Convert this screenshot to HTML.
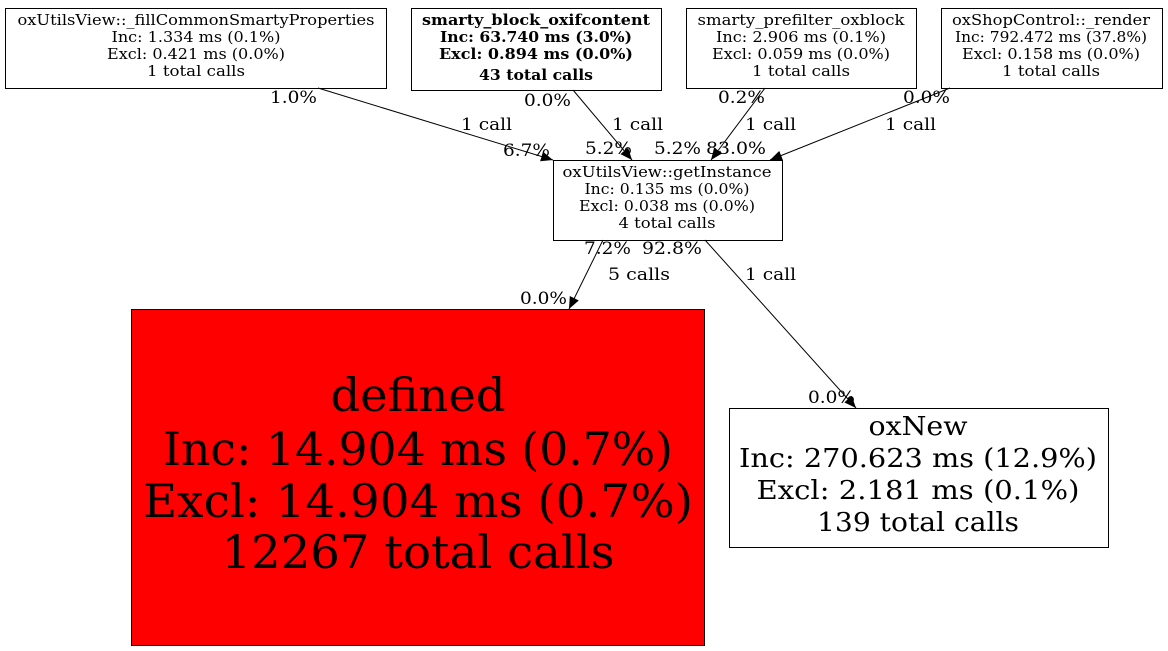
<!DOCTYPE html>
<html><head><meta charset="utf-8"><style>
html,body{margin:0;padding:0;background:#fff;}
svg{display:block;font-family:"DejaVu Serif","Liberation Serif",serif;}
</style></head><body>
<svg width="1168" height="651" viewBox="0 0 1168 651" xmlns="http://www.w3.org/2000/svg">
<defs><marker id="a" markerWidth="12" markerHeight="10" refX="12" refY="5" orient="auto" markerUnits="userSpaceOnUse"><path d="M0,0 L12,5 L0,10 z" fill="#000"/></marker></defs>
<g fill="none" stroke="#000" stroke-width="1">
<rect x="5.5" y="8.5" width="381" height="80"/>
<rect x="411.5" y="8.5" width="250" height="82"/>
<rect x="686.5" y="8.5" width="230" height="80"/>
<rect x="941.5" y="8.5" width="221" height="80"/>
<rect x="553.5" y="160.5" width="229" height="80"/>
<rect x="131.5" y="309.5" width="573" height="336" fill="#ff0000"/>
<rect x="729.5" y="408.5" width="379" height="139"/>
<line x1="318" y1="88" x2="553" y2="160" marker-end="url(#a)"/>
<line x1="573" y1="90" x2="632" y2="160" marker-end="url(#a)"/>
<line x1="765" y1="88" x2="711" y2="160" marker-end="url(#a)"/>
<line x1="950" y1="88" x2="770" y2="160" marker-end="url(#a)"/>
<line x1="603" y1="240" x2="569" y2="309" marker-end="url(#a)"/>
<line x1="705" y1="240" x2="856" y2="408" marker-end="url(#a)"/>
</g>
<g font-size="15" text-anchor="middle" fill="#000">
<text x="196" y="25" textLength="357" lengthAdjust="spacingAndGlyphs">oxUtilsView::_fillCommonSmartyProperties</text>
<text x="196" y="42" textLength="169" lengthAdjust="spacingAndGlyphs">Inc: 1.334 ms (0.1%)</text>
<text x="196" y="59" textLength="178" lengthAdjust="spacingAndGlyphs">Excl: 0.421 ms (0.0%)</text>
<text x="196" y="76" textLength="98" lengthAdjust="spacingAndGlyphs">1 total calls</text>
<g font-weight="bold">
<text x="536" y="25" textLength="228" lengthAdjust="spacingAndGlyphs">smarty_block_oxifcontent</text>
<text x="536" y="42" textLength="192" lengthAdjust="spacingAndGlyphs">Inc: 63.740 ms (3.0%)</text>
<text x="536" y="59" textLength="194" lengthAdjust="spacingAndGlyphs">Excl: 0.894 ms (0.0%)</text>
<text x="536" y="80" textLength="114" lengthAdjust="spacingAndGlyphs">43 total calls</text>
</g>
<text x="801" y="25" textLength="207" lengthAdjust="spacingAndGlyphs">smarty_prefilter_oxblock</text>
<text x="801" y="42" textLength="170" lengthAdjust="spacingAndGlyphs">Inc: 2.906 ms (0.1%)</text>
<text x="801" y="59" textLength="178" lengthAdjust="spacingAndGlyphs">Excl: 0.059 ms (0.0%)</text>
<text x="801" y="76" textLength="98" lengthAdjust="spacingAndGlyphs">1 total calls</text>
<text x="1051" y="25" textLength="198" lengthAdjust="spacingAndGlyphs">oxShopControl::_render</text>
<text x="1051" y="42" textLength="192" lengthAdjust="spacingAndGlyphs">Inc: 792.472 ms (37.8%)</text>
<text x="1051" y="59" textLength="178" lengthAdjust="spacingAndGlyphs">Excl: 0.158 ms (0.0%)</text>
<text x="1051" y="76" textLength="98" lengthAdjust="spacingAndGlyphs">1 total calls</text>
<text x="667" y="177" textLength="209" lengthAdjust="spacingAndGlyphs">oxUtilsView::getInstance</text>
<text x="667" y="194" textLength="165" lengthAdjust="spacingAndGlyphs">Inc: 0.135 ms (0.0%)</text>
<text x="667" y="211" textLength="176" lengthAdjust="spacingAndGlyphs">Excl: 0.038 ms (0.0%)</text>
<text x="667" y="228" textLength="97" lengthAdjust="spacingAndGlyphs">4 total calls</text>
</g>
<g text-anchor="middle">
<text x="418" y="411" font-size="46" textLength="175" lengthAdjust="spacingAndGlyphs">defined</text>
<text x="418" y="465" font-size="46" textLength="510" lengthAdjust="spacingAndGlyphs">Inc: 14.904 ms (0.7%)</text>
<text x="418" y="517" font-size="46" textLength="550" lengthAdjust="spacingAndGlyphs">Excl: 14.904 ms (0.7%)</text>
<text x="418" y="568" font-size="46" textLength="393" lengthAdjust="spacingAndGlyphs">12267 total calls</text>
<text x="918" y="435" font-size="26" textLength="99" lengthAdjust="spacingAndGlyphs">oxNew</text>
<text x="918" y="467" font-size="26" textLength="358" lengthAdjust="spacingAndGlyphs">Inc: 270.623 ms (12.9%)</text>
<text x="918" y="499" font-size="26" textLength="323" lengthAdjust="spacingAndGlyphs">Excl: 2.181 ms (0.1%)</text>
<text x="918" y="531" font-size="26" textLength="202" lengthAdjust="spacingAndGlyphs">139 total calls</text>
</g>
<g font-size="17">
<text x="270" y="103" textLength="47" lengthAdjust="spacingAndGlyphs">1.0%</text>
<text x="461" y="130" textLength="51" lengthAdjust="spacingAndGlyphs">1 call</text>
<text x="503" y="156" textLength="47" lengthAdjust="spacingAndGlyphs">6.7%</text>
<text x="524" y="106" textLength="47" lengthAdjust="spacingAndGlyphs">0.0%</text>
<text x="612" y="130" textLength="51" lengthAdjust="spacingAndGlyphs">1 call</text>
<text x="585" y="154" textLength="47" lengthAdjust="spacingAndGlyphs">5.2%</text>
<text x="718" y="103" textLength="47" lengthAdjust="spacingAndGlyphs">0.2%</text>
<text x="745" y="130" textLength="51" lengthAdjust="spacingAndGlyphs">1 call</text>
<text x="654" y="154" textLength="47" lengthAdjust="spacingAndGlyphs">5.2%</text>
<text x="706" y="154" textLength="60" lengthAdjust="spacingAndGlyphs">83.0%</text>
<text x="903" y="103" textLength="47" lengthAdjust="spacingAndGlyphs">0.0%</text>
<text x="885" y="130" textLength="51" lengthAdjust="spacingAndGlyphs">1 call</text>
<text x="584" y="254" textLength="47" lengthAdjust="spacingAndGlyphs">7.2%</text>
<text x="642" y="254" textLength="60" lengthAdjust="spacingAndGlyphs">92.8%</text>
<text x="608" y="280" textLength="62" lengthAdjust="spacingAndGlyphs">5 calls</text>
<text x="520" y="304" textLength="47" lengthAdjust="spacingAndGlyphs">0.0%</text>
<text x="745" y="280" textLength="51" lengthAdjust="spacingAndGlyphs">1 call</text>
<text x="808" y="403" textLength="47" lengthAdjust="spacingAndGlyphs">0.0%</text>
</g>
</svg>
</body></html>
